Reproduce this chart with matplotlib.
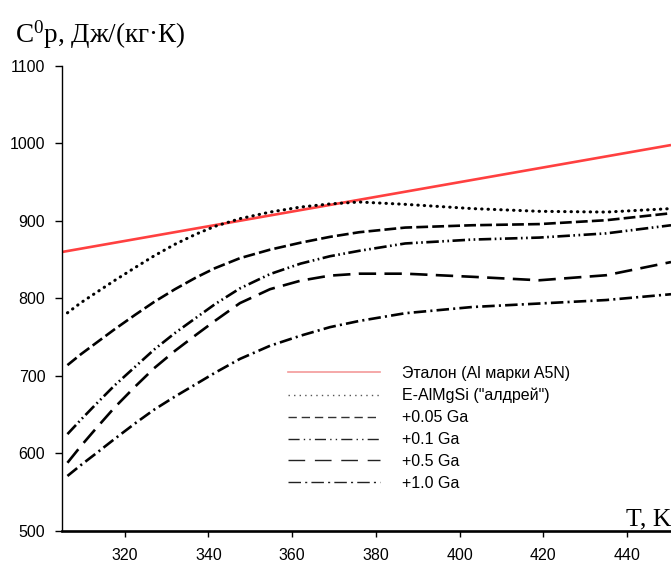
import matplotlib
matplotlib.use("Agg")
import matplotlib.pyplot as plt
from matplotlib.lines import Line2D

plt.rcParams['mathtext.fontset'] = 'custom'
plt.rcParams['mathtext.rm'] = 'Liberation Serif'
plt.rcParams['mathtext.it'] = 'Liberation Serif'
plt.rcParams['lines.scale_dashes'] = False

# Data
T = [306.3, 309.5, 313, 317.5, 322.5, 327, 332, 337, 341.5, 347.5, 354.7, 362,
     369, 376, 387, 403, 419, 435, 450.5]
ref_T = [305, 450.5]
ref_cp = [860, 998]
cp_alloy = [781.5, 794.5, 807, 823, 840, 855, 870, 883, 893, 903, 911.5, 918,
            922, 924.5, 921.5, 916, 912.5, 911.5, 916]
cp_005 = [714, 728, 742, 760, 779, 795.5, 812, 827, 839, 852, 863, 872,
          879.5, 885.5, 891.5, 894.5, 896, 901, 910]
cp_01 = [625, 643.5, 663, 687.5, 712, 734, 755.5, 775, 792.5, 813, 831.5, 845,
         854.5, 861.5, 871, 876, 878.6, 884, 894.5]
cp_05 = [588, 609.5, 631.5, 659, 686.5, 710, 732.5, 753, 771, 794, 812, 823,
         829.5, 832, 832, 828, 823.5, 830, 847]
cp_10 = [571, 585, 599.5, 618.5, 639, 656.5, 673.5, 689.5, 704, 722, 739, 752,
         763, 771, 781, 789, 793.5, 798, 805.5]

labels = ['Эталон (Al марки A5N)', 'E-AlMgSi ("алдрей")', '+0.05 Ga',
          '+0.1 Ga', '+0.5 Ga', '+1.0 Ga']
xticks = [320, 340, 360, 380, 400, 420, 440]
yticks = [500, 600, 700, 800, 900, 1000, 1100]

fig = plt.figure(figsize=(6.71, 5.65), dpi=100)
ax = fig.add_axes([0.0924, 0.0602, 0.9076, 0.823])

lw = 1.9
ax.plot(ref_T, ref_cp, color='#ff4040', lw=lw, solid_capstyle='butt')
ax.plot(T, cp_alloy, color='black', lw=2.2, linestyle=(0, (0.3, 4.3)), dash_capstyle='round')
ax.plot(T, cp_005, color='black', lw=lw, linestyle=(0, (8.5, 3)))
ax.plot(T, cp_01, color='black', lw=lw, linestyle=(0, (9, 2.5, 1.2, 2.5, 1.2, 2.5)))
ax.plot(T, cp_05, color='black', lw=lw, linestyle=(0, (12.5, 6)))
ax.plot(T, cp_10, color='black', lw=lw, linestyle=(0, (9, 3, 1.5, 3)))

ax.set_xlim(305, 450.5)
ax.set_ylim(500, 1100)
ax.set_xticks(xticks)
ax.set_yticks(yticks)
ax.spines['top'].set_visible(False)
ax.spines['right'].set_visible(False)
ax.spines['left'].set_linewidth(1.0)
ax.spines['bottom'].set_linewidth(1.9)
ax.tick_params(axis='y', direction='out', length=5, width=1.0, labelsize=11.5, pad=7)
ax.tick_params(axis='x', direction='out', length=4, width=1.0, labelsize=11.5, pad=8)
for lab in ax.get_xticklabels() + ax.get_yticklabels():
    lab.set_fontfamily('Liberation Sans')

handles = [
    Line2D([], [], color='#f39a9a', lw=1.2),
    Line2D([], [], color='#555555', lw=1.0, linestyle=(0, (1, 3))),
    Line2D([], [], color='#333333', lw=1.0, linestyle=(0, (6, 3.5))),
    Line2D([], [], color='#222222', lw=1.0, linestyle=(0, (8, 3, 1, 3, 1, 3))),
    Line2D([], [], color='#222222', lw=1.0, linestyle=(0, (12, 7))),
    Line2D([], [], color='#222222', lw=1.0, linestyle=(0, (9, 3, 1.5, 3))),
]
leg = fig.legend(handles, labels, loc='upper left', bbox_to_anchor=(288 / 671, 1 - 366 / 565),
                 frameon=False, borderpad=0, borderaxespad=0, handlelength=5.75,
                 handletextpad=1.4, labelspacing=0.43,
                 prop={'family': 'Liberation Sans', 'size': 11.5})

fig.text(15 / 671, 1 - 43 / 565, r'C$^{\mathrm{0}}$p, Дж/(кг·К)', family='Liberation Serif',
         fontsize=19.5, ha='left', va='baseline')
fig.text(1.0, 1 - 525 / 565, 'T, K', family='Liberation Serif', fontsize=18.5,
         ha='right', va='baseline')

fig.savefig('out.png', dpi=100)
